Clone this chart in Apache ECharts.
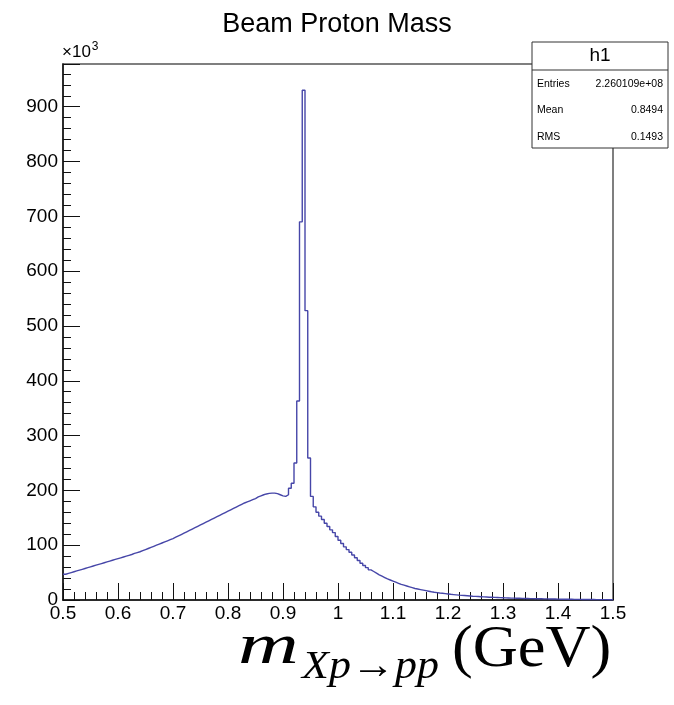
<!DOCTYPE html>
<html>
<head>
<meta charset="utf-8">
<script src="https://cdn.jsdelivr.net/npm/echarts@6/dist/echarts.min.js"></script>
<style>
  html, body { margin: 0; padding: 0; background: #fff; }
  #main { width: 674px; height: 705px; }
</style>
</head>
<body>
<div id="main"></div>
<script>
// histogram: 200 bins of 0.005 GeV from 0.5 to 1.5, counts in units of 10^3
var xMin = 0.5
var xMax = 1.5
var binWidth = 0.005
// 0.500 - 0.900
var rising = [
  47, 48.5, 50, 51.5, 53, 54.5, 56, 57.5, 59, 60.5,
  62, 63.5, 65, 66.5, 68, 69.5, 71, 72.5, 74, 75.5,
  77, 78.5, 80, 81.5, 83, 85, 86.5, 88, 90, 92,
  94, 96, 98, 100, 102, 104, 106, 108, 110, 112,
  114.5, 117, 119.5, 122, 124.5, 127, 129.5, 132, 134.5, 137,
  139.5, 142, 144.5, 147, 149.5, 152, 154.5, 157, 159.5, 162,
  164.5, 167, 169.5, 172, 174.5, 177, 179, 181, 183, 185,
  188, 190, 192, 193.5, 194.5, 195, 195, 194, 192, 190
]
// 0.900 - 0.960
var peakBins = [189, 192, 204, 213, 250, 363, 690, 930, 528, 259, 189, 170]
// 0.960 - 1.500
var tail = [
  160, 153, 147, 140, 134, 128, 123, 116,
  109, 103, 97, 92, 87, 82, 77, 72, 67, 63,
  59, 55, 52, 49, 46, 43.5, 41, 38.5, 36.5, 34.5,
  32.5, 30.5, 28.5, 27, 25.5, 24, 22.5, 21, 20, 19,
  18, 17, 16, 15, 14.2, 13.5, 12.8, 12.2, 11.6, 11,
  10.4, 9.9, 9.4, 8.9, 8.5, 8.1, 7.7, 7.3, 6.9, 6.6,
  6.3, 6.0, 5.7, 5.4, 5.1, 4.9, 4.7, 4.5, 4.3, 4.1,
  3.9, 3.7, 3.5, 3.4, 3.2, 3.1, 2.9, 2.8, 2.7, 2.6,
  2.5, 2.4, 2.3, 2.2, 2.1, 2.0, 1.9, 1.8, 1.7, 1.6,
  1.5, 1.45, 1.4, 1.3, 1.25, 1.2, 1.1, 1.05, 1.0, 0.95,
  0.9, 0.85, 0.8, 0.75, 0.7, 0.68, 0.64, 0.6, 0.57, 0.54
]
var statsRows = [
  ['Entries', '2.260109e+08'],
  ['Mean', '0.8494'],
  ['RMS', '0.1493']
]

var counts = rising.concat(peakBins, tail)
var steps = counts.map(function (c, i) {
  return [+(xMin + i * binWidth).toFixed(4), c]
})
steps.push([xMax, counts[counts.length - 1]])

var sans = 'Liberation Sans, Arial, Helvetica, sans-serif'
var serif = 'Liberation Serif, Times New Roman, serif'

var myChart = echarts.init(document.getElementById('main'))

var statsGraphics = [
  {
    type: 'rect', z: 100,
    shape: { x: 532, y: 42, width: 136, height: 106 },
    style: { fill: '#fff', stroke: '#333', lineWidth: 1 }
  },
  {
    type: 'line', z: 101,
    shape: { x1: 532, y1: 70, x2: 668, y2: 70 },
    style: { stroke: '#333', lineWidth: 1 }
  },
  {
    type: 'text', z: 101, x: 600, y: 56,
    style: { text: 'h1', font: '19px ' + sans, fill: '#000', align: 'center', verticalAlign: 'middle' }
  }
]
statsRows.forEach(function (r, i) {
  var y = 84 + i * 26.5
  statsGraphics.push({
    type: 'text', z: 101, x: 537, y: y,
    style: { text: r[0], font: '10.5px ' + sans, fill: '#000', align: 'left', verticalAlign: 'middle' }
  })
  statsGraphics.push({
    type: 'text', z: 101, x: 663, y: y,
    style: { text: r[1], font: '10.5px ' + sans, fill: '#000', align: 'right', verticalAlign: 'middle' }
  })
})

var option = {
  animation: false,
  title: {
    text: 'Beam Proton Mass',
    left: 'center',
    top: 6,
    textStyle: { fontFamily: sans, fontSize: 27, fontWeight: 'normal', color: '#000' }
  },
  grid: {
    left: 63, right: 61, top: 64, bottom: 105,
    show: true,
    borderColor: '#555',
    borderWidth: 1.5
  },
  xAxis: {
    type: 'value',
    min: xMin,
    max: xMax,
    interval: 0.1,
    axisLine: { lineStyle: { color: '#111', width: 1.5 } },
    axisTick: { inside: true, length: 17, lineStyle: { color: '#111' } },
    minorTick: { show: true, splitNumber: 5, length: 8, lineStyle: { color: '#111' } },
    splitLine: { show: false },
    axisLabel: {
      margin: 4,
      fontFamily: sans, fontSize: 19, color: '#000',
      formatter: function (v) { return String(+v.toFixed(1)) }
    }
  },
  yAxis: {
    type: 'value',
    min: 0,
    max: 978,
    interval: 100,
    axisLine: { lineStyle: { color: '#111', width: 1.5 } },
    axisTick: { inside: true, length: 17, lineStyle: { color: '#111' } },
    minorTick: { show: true, splitNumber: 5, length: 8, lineStyle: { color: '#111' } },
    splitLine: { show: false },
    axisLabel: {
      margin: 5, showMaxLabel: false,
      fontFamily: sans, fontSize: 19, color: '#000'
    }
  },
  series: [
    {
      type: 'line',
      step: 'end',
      data: steps,
      symbol: 'none',
      lineStyle: { color: '#4646a8', width: 1.4 },
      z: 3
    }
  ],
  graphic: statsGraphics.concat([
    {
      type: 'text', x: 62, y: 63,
      style: {
        text: '{a|×10}{b|3}',
        verticalAlign: 'bottom',
        rich: {
          a: { font: '17px ' + sans, fill: '#000' },
          b: { font: '12px ' + sans, fill: '#000', padding: [0, 0, 10, 1] }
        }
      }
    },
    {
      type: 'text', x: 238, y: 648, scaleX: 1.45,
      style: { text: 'm', font: 'italic 58px ' + serif, fill: '#000', verticalAlign: 'middle' }
    },
    {
      type: 'text', x: 302, y: 667, scaleX: 1.1,
      style: {
        text: '{i|Xp}{a|→}{i|pp}',
        verticalAlign: 'middle',
        rich: {
          i: { font: 'italic 40px ' + serif, fill: '#000' },
          a: { font: '40px ' + serif, fill: '#000' }
        }
      }
    },
    {
      type: 'text', x: 452, y: 650, scaleX: 1.04,
      style: { text: '(GeV)', font: '60px ' + serif, fill: '#000', verticalAlign: 'middle' }
    }
  ])
}

myChart.setOption(option)
</script>
</body>
</html>
